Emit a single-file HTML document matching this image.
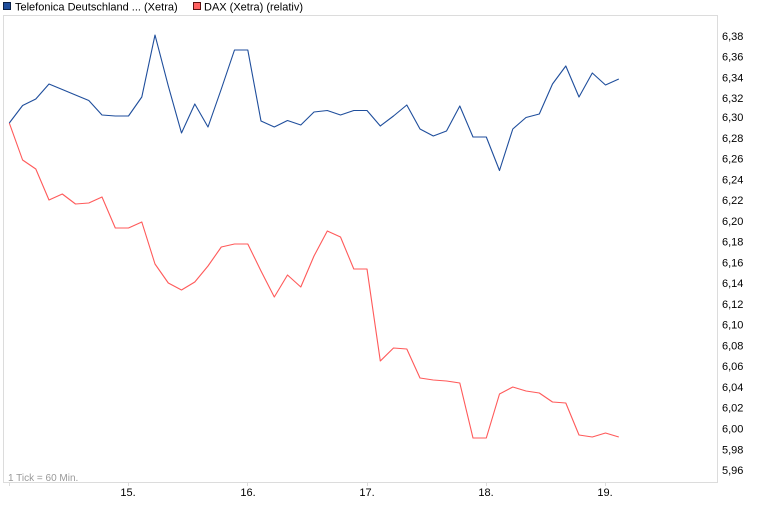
<!DOCTYPE html>
<html><head><meta charset="utf-8"><style>
html,body{margin:0;padding:0;background:#fff;}
svg{display:block;font-family:"Liberation Sans",Arial,sans-serif;}
</style></head><body>
<svg width="760" height="517" viewBox="0 0 760 517" xmlns="http://www.w3.org/2000/svg">
<rect x="0" y="0" width="760" height="517" fill="#fff"/>
<!-- legend -->
<rect x="3.5" y="2.5" width="7" height="7" fill="#1f4e9c" stroke="#0a1f44"/>
<text x="15" y="10.5" font-size="11" fill="#000">Telefonica Deutschland ... (Xetra)</text>
<rect x="193.5" y="2.5" width="7" height="7" fill="#ff6161" stroke="#5a1010"/>
<text x="204" y="10.5" font-size="11" fill="#000">DAX (Xetra) (relativ)</text>
<!-- plot box -->
<rect x="3.5" y="15.5" width="714" height="467" fill="none" stroke="#dcdcdc"/>
<!-- x ticks -->
<g stroke="#dcdcdc">
<line x1="9.5" y1="483" x2="9.5" y2="486"/>
<line x1="128.5" y1="483" x2="128.5" y2="486"/>
<line x1="247.5" y1="483" x2="247.5" y2="486"/>
<line x1="367.5" y1="483" x2="367.5" y2="486"/>
<line x1="486.5" y1="483" x2="486.5" y2="486"/>
<line x1="605.5" y1="483" x2="605.5" y2="486"/>
</g>
<g font-size="11" fill="#000" text-anchor="middle">
<text x="128" y="496">15.</text>
<text x="248" y="496">16.</text>
<text x="367" y="496">17.</text>
<text x="486" y="496">18.</text>
<text x="605" y="496">19.</text>
</g>
<text x="8" y="481" font-size="10" fill="#999">1 Tick = 60 Min.</text>
<!-- y labels -->
<g font-size="11" fill="#000">
<text x="722" y="40">6,38</text>
<text x="722" y="60.6">6,36</text>
<text x="722" y="81.4">6,34</text>
<text x="722" y="102.2">6,32</text>
<text x="722" y="121">6,30</text>
<text x="722" y="141.8">6,28</text>
<text x="722" y="162.5">6,26</text>
<text x="722" y="183.3">6,24</text>
<text x="722" y="204">6,22</text>
<text x="722" y="224.8">6,20</text>
<text x="722" y="245.6">6,18</text>
<text x="722" y="266.4">6,16</text>
<text x="722" y="287.1">6,14</text>
<text x="722" y="307.9">6,12</text>
<text x="722" y="328.6">6,10</text>
<text x="722" y="349.4">6,08</text>
<text x="722" y="370.2">6,06</text>
<text x="722" y="391">6,04</text>
<text x="722" y="411.7">6,02</text>
<text x="722" y="432.5">6,00</text>
<text x="722" y="453.3">5,98</text>
<text x="722" y="474">5,96</text>
</g>
<!-- DAX series -->
<polyline fill="none" stroke="#ff5a5a" stroke-width="1.1" stroke-linejoin="round" points="9.3,123 22.6,160 35.8,169 49,200 62.3,194 75.5,204 88.8,203 102,197 115.3,228 128.5,228 141.8,222 155,264 168.3,283 181.5,290 194.8,282 208,266 221.3,247 234.5,244 247.8,244 261,271 274.3,297 287.5,275 300.8,287 314,256 327.3,231 340.5,237 353.8,269 367,269 380.3,361 393.5,348 406.8,349 420,378 433.3,380 446.5,381 459.8,383 473,438 486.3,438 499.5,394 512.8,387 526,391 539.3,393 552.5,402 565.8,403 579,435 592.3,437 605.5,433 618.8,437"/>
<!-- Telefonica series -->
<polyline fill="none" stroke="#1f4e9c" stroke-width="1.1" stroke-linejoin="round" points="9.3,123 22.6,105.5 35.8,99 49,84 62.3,89.5 75.5,95 88.8,100.5 102,115 115.3,116 128.5,116 141.8,97 155,35 168.3,86 181.5,133 194.8,104 208,127 221.3,89 234.5,50 247.8,50 261,121 274.3,127 287.5,120.5 300.8,125 314,112 327.3,110.5 340.5,115 353.8,110.5 367,110.5 380.3,126 393.5,116 406.8,105 420,129 433.3,136 446.5,131 459.8,106 473,137 486.3,137 499.5,170.5 512.8,129 526,117.5 539.3,114 552.5,84 565.8,66 579,97 592.3,73 605.5,85 618.8,79"/>
</svg>
</body></html>
